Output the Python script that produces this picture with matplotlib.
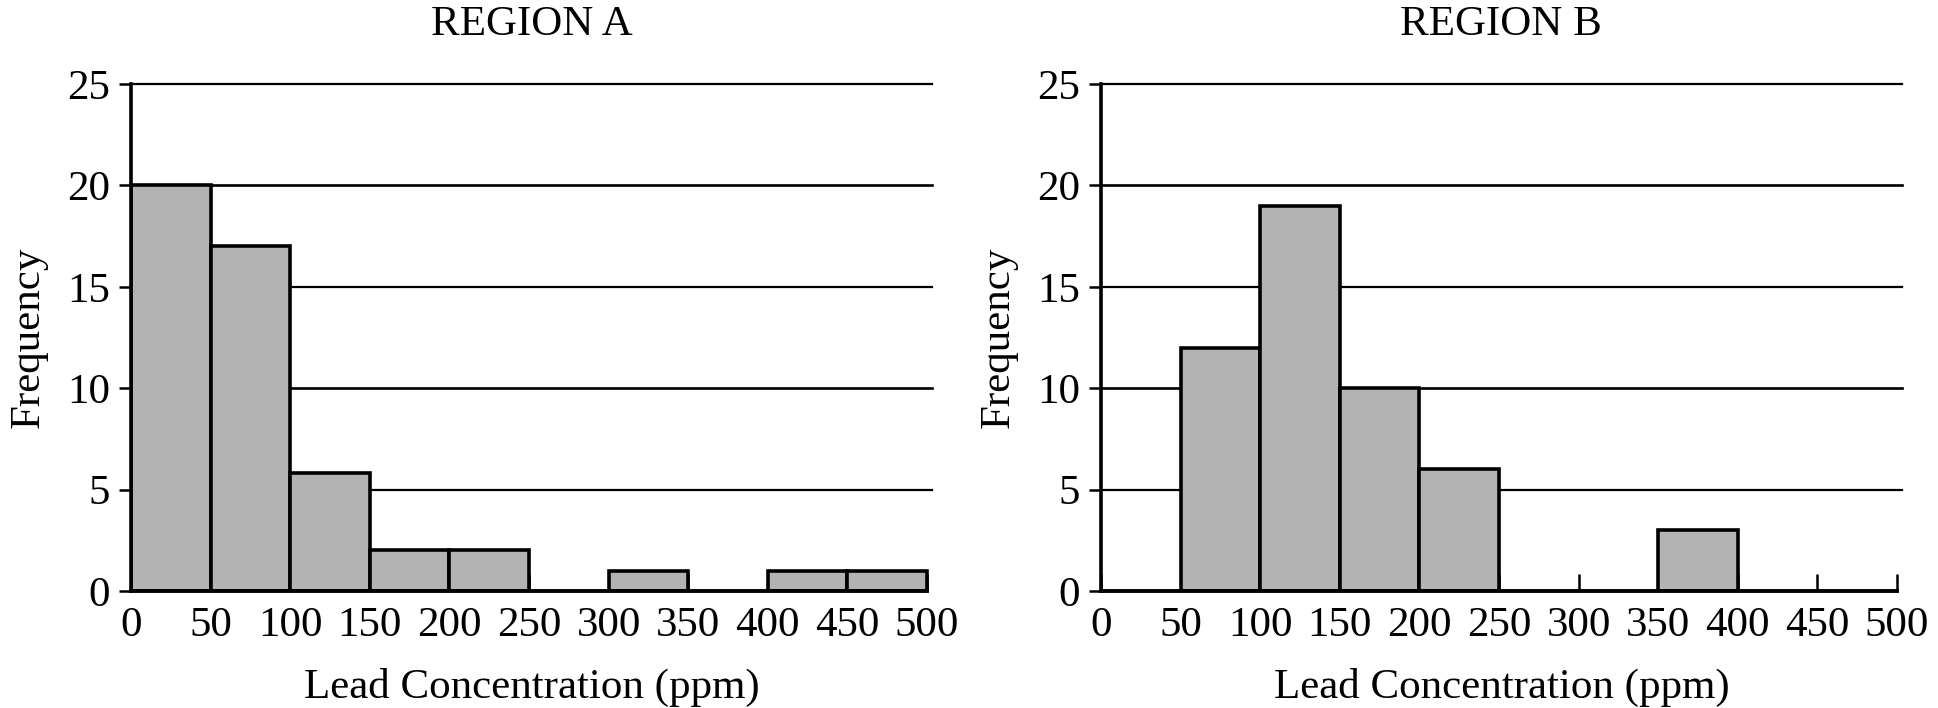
import matplotlib
matplotlib.use("Agg")
import matplotlib.pyplot as plt
import numpy as np

bin_edges = [0, 50, 100, 150, 200, 250, 300, 350, 400, 450, 500]
region_a_counts = [20, 17, 5.8, 2, 2, 0, 1, 0, 1, 1]
region_b_counts = [0, 12, 19, 10, 6, 0, 0, 3, 0, 0]
titles = ["REGION A", "REGION B"]
y_ticks = [0, 5, 10, 15, 20, 25]
x_ticks = bin_edges
xlabel = "Lead Concentration (ppm)"
ylabel = "Frequency"

plt.rcParams['font.family'] = ['Liberation Serif', 'DejaVu Serif']

W, H = 1938, 708
fig = plt.figure(figsize=(W / 100, H / 100), dpi=100)

unit = (927 - 131) / 500.0
xmax = 503
axes_px = [(131, 84, 591), (1101, 84, 591)]
FS = 31

for (x0, ytop, ybot), counts, title in zip(axes_px, [region_a_counts, region_b_counts], titles):
    width_px = unit * xmax
    ax = fig.add_axes([x0 / W, (H - ybot) / H, width_px / W, (ybot - ytop) / H])
    lefts = np.array(bin_edges[:-1])
    widths = np.diff(bin_edges)
    for l, w, c in zip(lefts, widths, counts):
        if c > 0:
            ax.bar(l, c, width=w, align='edge', color='#b3b3b3', edgecolor='black',
                   linewidth=2.6, zorder=3)
    ax.set_xlim(0, xmax)
    ax.set_ylim(0, 25)
    for y in y_ticks[1:]:
        ax.axhline(y, color='black', linewidth=1.6 if y % 10 else 1.9, zorder=1,
                   clip_on=False)
    ax.set_yticks(y_ticks)
    ax.set_xticks(x_ticks)
    ax.set_xticklabels([str(v) for v in x_ticks], fontsize=FS)
    ax.set_yticklabels([str(v) for v in y_ticks], fontsize=FS)
    ax.tick_params(axis='y', direction='out', length=9, width=1.8, pad=6)
    ax.tick_params(axis='x', direction='in', length=12, width=1.8, pad=11)
    for s in ['top', 'right']:
        ax.spines[s].set_visible(False)
    ax.spines['left'].set_linewidth(2.6)
    ax.spines['bottom'].set_linewidth(2.8)
    ax.spines['bottom'].set_bounds(0, 500)
    ax.spines['left'].set_zorder(4)
    ax.spines['bottom'].set_zorder(4)
    ax.set_title(title, fontsize=FS, pad=35)
    ax.set_xlabel(xlabel, fontsize=FS, labelpad=17)
    ax.set_ylabel(ylabel, fontsize=FS, labelpad=14)

fig.savefig("out.png", dpi=100, facecolor='white')
